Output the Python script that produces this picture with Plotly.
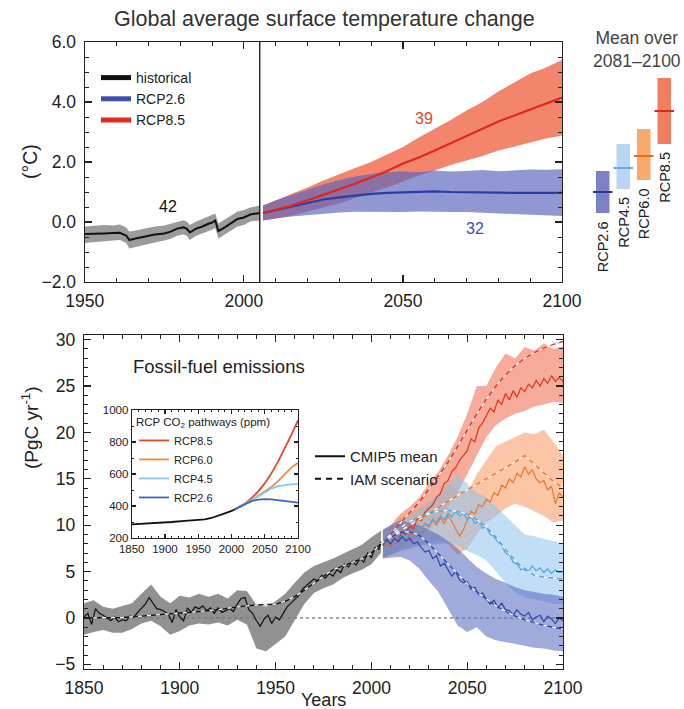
import plotly.graph_objects as go

FONT = "Liberation Sans, Arial, sans-serif"

# ================= TOP PANEL DATA: temperature change (degC) =================
TRANSITION_YEAR = 2005
HIST_T_YEARS = [1950, 1953, 1956, 1959, 1961, 1963, 1964, 1966, 1969, 1972, 1975, 1977, 1979, 1981,
                1982, 1983, 1985, 1987, 1989, 1990, 1991, 1992, 1994, 1996, 1998, 2000, 2002, 2005]
HIST_T_MEAN = [-0.40, -0.40, -0.38, -0.37, -0.36, -0.45, -0.60, -0.55, -0.48, -0.42, -0.38, -0.32, -0.22, -0.18,
               -0.22, -0.35, -0.22, -0.15, -0.05, -0.02, 0.05, -0.30, -0.18, -0.05, 0.10, 0.15, 0.25, 0.30]
HIST_T_HI = [-0.15, -0.12, -0.10, -0.12, -0.08, -0.18, -0.32, -0.28, -0.22, -0.15, -0.12, -0.06, 0.02, 0.06,
             0.02, -0.10, 0.02, 0.10, 0.18, 0.22, 0.28, -0.05, 0.08, 0.20, 0.35, 0.40, 0.48, 0.55]
HIST_T_LO = [-0.70, -0.68, -0.65, -0.62, -0.60, -0.70, -0.88, -0.82, -0.75, -0.68, -0.62, -0.56, -0.46, -0.42,
             -0.46, -0.60, -0.46, -0.40, -0.30, -0.26, -0.20, -0.55, -0.42, -0.30, -0.15, -0.10, 0.02, 0.05]

FUT_T_YEARS = [2006, 2010, 2015, 2020, 2025, 2030, 2035, 2040, 2045, 2050,
               2055, 2060, 2065, 2070, 2075, 2080, 2085, 2090, 2095, 2100]
RCP85_T_MEAN = [0.30, 0.40, 0.55, 0.72, 0.90, 1.10, 1.28, 1.48, 1.70, 1.95,
                2.15, 2.38, 2.62, 2.85, 3.10, 3.35, 3.55, 3.75, 3.95, 4.15]
RCP85_T_HI = [0.55, 0.72, 0.92, 1.15, 1.38, 1.60, 1.80, 2.00, 2.25, 2.50,
              2.82, 3.10, 3.40, 3.72, 4.00, 4.35, 4.65, 4.95, 5.15, 5.40]
RCP85_T_LO = [0.05, 0.12, 0.22, 0.35, 0.48, 0.62, 0.80, 0.98, 1.15, 1.35,
              1.55, 1.72, 1.90, 2.05, 2.20, 2.38, 2.52, 2.65, 2.78, 2.88]
RCP26_T_MEAN = [0.30, 0.40, 0.52, 0.65, 0.75, 0.82, 0.88, 0.94, 0.97, 0.98,
                1.00, 1.02, 1.00, 1.00, 0.98, 0.98, 0.97, 0.98, 0.97, 0.97]
RCP26_T_HI = [0.55, 0.72, 0.90, 1.08, 1.25, 1.40, 1.52, 1.60, 1.66, 1.68,
              1.66, 1.72, 1.68, 1.70, 1.73, 1.69, 1.72, 1.75, 1.74, 1.76]
RCP26_T_LO = [0.05, 0.12, 0.18, 0.24, 0.28, 0.32, 0.34, 0.35, 0.34, 0.33,
              0.35, 0.35, 0.33, 0.33, 0.31, 0.30, 0.27, 0.25, 0.22, 0.20]

MODEL_COUNTS = {"historical": "42", "RCP8.5": "39", "RCP2.6": "32"}

# Mean over 2081-2100
BAR_SCEN = ["RCP2.6", "RCP4.5", "RCP6.0", "RCP8.5"]
BAR_LO = [0.3, 1.1, 1.4, 2.6]
BAR_HI = [1.7, 2.6, 3.1, 4.8]
BAR_MEAN = [1.0, 1.8, 2.2, 3.7]

# ================= BOTTOM PANEL DATA: fossil-fuel emissions (PgC/yr) =================
EM_HIST_YEARS = list(range(1850, 2005, 2)) + [2005]
EM_HIST_MEAN = [0.1, 0.5, -0.7, 1.0, 0.5, 0.3, 0.0, -0.3, 0.1, -0.4,
                -0.2, -0.3, 0.2, 0.1, 0.6, 1.1, 1.5, 2.2, 1.6, 1.0,
                0.9, 0.7, 0.4, -0.5, 0.9, 0.1, -0.3, 1.1, 0.6, 1.2,
                1.0, 1.3, 0.8, 1.1, 0.5, 1.1, 0.6, 0.8, 1.0, 0.7,
                1.5, 2.1, 2.2, 0.9, 0.5, -0.3, -0.9, -0.1, 0.3, -0.6,
                0.1, -0.2, 0.5, 1.2, 1.6, 2.0, 2.4, 3.1, 3.5, 3.8,
                4.2, 4.0, 4.6, 4.3, 4.8, 4.5, 5.2, 4.9, 5.8, 5.5,
                6.1, 5.7, 6.4, 6.0, 7.0, 6.5, 7.6, 7.4,
                8.2]
EM_HIST_BAND_YEARS = list(range(1850, 2006, 5))
EM_HIST_HI = [1.6, 1.9, 1.2, 1.0, 1.3, 1.6, 2.6, 3.6, 2.3, 1.6,
              2.4, 2.2, 2.6, 2.3, 2.6, 2.1, 3.0, 2.9, 1.4, 1.2,
              1.8, 2.6, 3.8, 4.9, 5.6, 6.0, 6.4, 6.9, 7.4, 7.9,
              8.7, 9.4]
EM_HIST_LO = [-1.8, -1.5, -1.3, -1.6, -1.6, -1.2, -0.6, -0.3, -0.9, -1.8,
              -1.4, -0.8, -0.6, -0.7, -0.5, -0.8, -0.2, -0.7, -3.3, -3.6,
              -2.8, -2.0, -0.3, 1.5, 2.7, 3.2, 3.6, 4.3, 4.8, 5.2,
              5.8, 7.0]
IAM_HIST_YEARS = [1850, 1860, 1870, 1880, 1890, 1900, 1910, 1920, 1930, 1940, 1950,
                  1955, 1960, 1965, 1970, 1975, 1980, 1985, 1990, 1995, 2000, 2005]
IAM_HIST = [0.0, 0.0, 0.05, 0.2, 0.35, 0.5, 0.7, 0.9, 1.2, 1.4, 1.5,
            1.8, 2.3, 3.0, 3.8, 4.5, 5.2, 5.6, 6.0, 6.4, 7.0, 8.0]

EM_FUT_YEARS = list(range(2006, 2101, 2))
RCP85_EM = [7.8, 8.3, 7.7, 8.6, 8.4, 9.3, 9.0, 10.0, 9.6, 10.8,
            10.5, 11.4, 11.8, 12.2, 13.0, 13.4, 14.5, 14.8, 15.8, 16.2,
            17.0, 17.5, 18.0, 19.3, 19.0, 20.5, 21.0, 21.8, 22.6, 22.2,
            23.5, 23.0, 24.2, 23.5, 24.5, 23.8, 24.8, 24.4, 25.2, 24.8,
            25.6, 25.0, 25.8, 25.3, 26.1, 25.5, 25.9, 25.5]
RCP60_EM = [7.9, 8.3, 7.8, 8.5, 8.2, 8.9, 8.6, 9.3, 8.9, 9.7,
            9.4, 10.2, 9.8, 10.6, 10.0, 10.8, 10.2, 11.0, 10.4, 9.6,
            8.8, 9.5, 10.5, 11.5, 11.2, 12.2, 12.0, 12.8, 12.5, 13.5,
            13.2, 14.3, 14.0, 15.0, 14.6, 15.6, 15.2, 16.3, 15.5, 16.0,
            15.0, 14.6, 14.8, 13.8, 14.2, 12.3, 13.5, 13.0]
RCP45_EM = [8.0, 8.4, 8.0, 8.7, 8.3, 9.0, 8.7, 9.4, 9.1, 9.8,
            9.5, 10.2, 9.9, 10.6, 10.3, 11.0, 10.6, 11.3, 10.9, 11.5,
            11.0, 11.3, 10.6, 10.9, 10.2, 10.4, 9.7, 9.8, 9.0, 8.8,
            8.2, 7.9, 7.0, 6.8, 6.0, 5.8, 5.2, 5.4, 5.0, 5.6,
            5.1, 5.4, 4.9, 5.3, 4.8, 5.2, 4.9, 5.0]
RCP26_EM = [7.9, 8.4, 8.0, 8.6, 8.2, 8.8, 8.3, 8.6, 8.0, 8.2,
            7.6, 7.1, 7.3, 6.4, 6.7, 5.6, 5.9, 5.2, 4.5, 5.0,
            4.1, 3.8, 3.9, 3.1, 3.3, 2.5, 2.7, 2.0, 1.5, 1.9,
            1.1, 1.6, 0.9, 0.8, 0.3, 0.9, 0.4, 0.2, 0.6, -0.2,
            0.1, 0.3, -0.4, 0.2, -0.1, -0.6, 0.0, -0.3]

EM_BAND_YEARS = [2006, 2010, 2015, 2020, 2025, 2030, 2035, 2040, 2045, 2050,
                 2055, 2060, 2065, 2070, 2075, 2080, 2085, 2090, 2095, 2100]
RCP85_HI = [9.5, 10.0, 11.2, 12.0, 13.0, 14.5, 15.8, 17.5, 19.5, 22.0,
            25.0, 25.0, 27.0, 28.5, 28.0, 29.2, 28.8, 29.6, 29.0, 29.3]
RCP85_LO = [6.5, 6.8, 7.5, 8.2, 8.8, 9.5, 10.5, 12.0, 13.5, 15.5,
            17.5, 19.5, 20.8, 21.5, 22.0, 22.3, 22.8, 23.0, 23.3, 23.2]
RCP60_HI = [9.3, 9.8, 10.8, 11.3, 11.8, 12.5, 13.3, 14.5, 13.8, 13.5,
            15.5, 17.0, 18.5, 19.0, 19.5, 20.0, 19.8, 20.3, 19.0, 17.5]
RCP60_LO = [6.5, 6.8, 7.3, 7.5, 7.8, 8.0, 8.3, 8.0, 6.8, 7.5,
            9.0, 10.3, 11.0, 11.8, 12.3, 12.0, 11.5, 11.0, 10.3, 10.5]
RCP45_HI = [9.3, 9.8, 10.5, 11.0, 11.8, 12.5, 13.3, 14.5, 15.5, 14.5,
            13.5, 13.0, 12.0, 11.0, 10.0, 9.0, 8.8, 8.5, 8.3, 8.0]
RCP45_LO = [6.6, 6.8, 7.2, 7.5, 7.8, 7.8, 8.0, 8.0, 7.8, 7.2,
            6.8, 6.2, 5.0, 3.8, 2.8, 2.2, 2.0, 1.8, 1.5, 1.5]
RCP26_HI = [9.5, 10.0, 10.5, 10.3, 10.0, 9.5, 9.0, 8.3, 7.5, 6.5,
            5.5, 4.8, 4.2, 3.8, 3.3, 3.0, 2.8, 2.6, 2.5, 2.3]
RCP26_LO = [6.4, 6.5, 6.6, 6.2, 5.3, 4.0, 2.8, 1.0, -0.8, -1.5,
            -1.0, -2.0, -2.4, -2.6, -2.8, -3.0, -3.2, -3.3, -3.5, -3.6]

IAM_FUT_YEARS = [2005, 2010, 2015, 2020, 2025, 2030, 2035, 2040, 2045, 2050,
                 2055, 2060, 2065, 2070, 2075, 2080, 2085, 2090, 2095, 2100]
RCP85_IAM = [8.0, 9.0, 10.2, 11.3, 12.5, 13.9, 15.3, 16.8, 18.5, 20.3,
             22.0, 23.6, 25.0, 26.2, 27.2, 28.0, 28.6, 29.1, 29.5, 29.8]
RCP60_IAM = [8.0, 8.7, 9.4, 10.0, 10.6, 11.2, 11.9, 12.6, 13.2, 13.8,
             14.4, 15.0, 15.6, 16.2, 16.8, 17.5, 16.6, 15.6, 14.7, 14.0]
RCP45_IAM = [8.0, 8.9, 9.7, 10.4, 10.9, 11.3, 11.5, 11.6, 11.5, 11.2,
             10.6, 9.8, 8.7, 7.4, 6.2, 5.2, 4.6, 4.4, 4.3, 4.2]
RCP26_IAM = [8.0, 8.7, 9.2, 9.3, 8.9, 8.0, 6.9, 5.8, 4.7, 3.7,
             2.8, 2.0, 1.3, 0.7, 0.2, -0.2, -0.5, -0.8, -1.0, -1.2]

# ================= INSET DATA: CO2 pathways (ppm) =================
CO2_HIST_YEARS = [1850, 1870, 1890, 1910, 1930, 1950, 1960, 1970, 1980, 1990, 2000, 2005]
CO2_HIST = [285, 289, 294, 300, 307, 311, 317, 325, 338, 354, 369, 379]
CO2_FUT_YEARS = [2005, 2010, 2020, 2030, 2040, 2050, 2060, 2070, 2080, 2090, 2100]
RCP85_CO2 = [379, 390, 415, 449, 490, 541, 604, 677, 758, 845, 936]
RCP60_CO2 = [379, 389, 412, 435, 461, 487, 518, 555, 597, 640, 670]
RCP45_CO2 = [379, 389, 412, 435, 460, 487, 509, 524, 531, 535, 538]
RCP26_CO2 = [379, 389, 412, 430, 440, 443, 441, 437, 432, 426, 421]

# ================= STYLE =================
C = {
    "RCP2.6": "#2c48a8", "RCP4.5": "#55a6dc", "RCP6.0": "#e8782e", "RCP8.5": "#e2321e",
}
BAR_COLORS = ["#7d82c6", "#b6d6f1", "#f7aa6c", "#f07f60"]
BAR_LINE_COLORS = ["#2a3898", "#6aaade", "#e2701e", "#e0281a"]

W, H = 684, 709
TICK_SIZE = 17.5


def px_x(p):
    return p / W


def px_y(p):
    return 1 - p / H


fig = go.Figure()


def band(x, lo, hi, color, xa, ya):
    fig.add_trace(go.Scatter(
        x=list(x) + list(x)[::-1], y=list(hi) + list(lo)[::-1],
        fill="toself", fillcolor=color, mode="lines", line=dict(width=0),
        hoverinfo="skip", showlegend=False, xaxis=xa, yaxis=ya))


def line(x, y, color, width, xa, ya, dash=None):
    fig.add_trace(go.Scatter(
        x=x, y=y, mode="lines", line=dict(color=color, width=width, dash=dash),
        hoverinfo="skip", showlegend=False, xaxis=xa, yaxis=ya))


# ---------- top panel ----------
band(HIST_T_YEARS, HIST_T_LO, HIST_T_HI, "#9b9b9b", "x", "y")
band(FUT_T_YEARS, RCP85_T_LO, RCP85_T_HI, "rgba(241,112,82,0.85)", "x", "y")
band(FUT_T_YEARS, RCP26_T_LO, RCP26_T_HI, "rgba(92,102,188,0.68)", "x", "y")
line(FUT_T_YEARS, RCP26_T_MEAN, "#2a3ea2", 2.2, "x", "y")
line(FUT_T_YEARS, RCP85_T_MEAN, "#e3261c", 2.2, "x", "y")
line(HIST_T_YEARS, HIST_T_MEAN, "#111111", 2.0, "x", "y")

for name, col in [("historical", "#111111"), ("RCP2.6", "#3a4fb0"), ("RCP8.5", "#e52a1e")]:
    fig.add_trace(go.Scatter(x=[None], y=[None], mode="lines", name=name,
                             line=dict(color=col, width=5), legend="legend",
                             xaxis="x", yaxis="y"))

# ---------- mean bars ----------
fig.add_trace(go.Bar(
    x=BAR_SCEN, y=[h - l for h, l in zip(BAR_HI, BAR_LO)], base=BAR_LO,
    marker=dict(color=BAR_COLORS, line=dict(width=0)), width=0.66,
    hoverinfo="skip", showlegend=False, xaxis="x2", yaxis="y2"))
fig.add_trace(go.Scatter(
    x=BAR_SCEN, y=BAR_MEAN, mode="markers",
    marker=dict(symbol="line-ew", size=14, line=dict(width=2, color=BAR_LINE_COLORS)),
    hoverinfo="skip", showlegend=False, xaxis="x2", yaxis="y2"))

# ---------- bottom panel ----------
band(EM_HIST_BAND_YEARS, EM_HIST_LO, EM_HIST_HI, "rgba(118,118,118,0.8)", "x3", "y3")
band(EM_BAND_YEARS, RCP85_LO, RCP85_HI, "rgba(240,104,72,0.55)", "x3", "y3")
band(EM_BAND_YEARS, RCP60_LO, RCP60_HI, "rgba(247,150,92,0.55)", "x3", "y3")
band(EM_BAND_YEARS, RCP45_LO, RCP45_HI, "rgba(140,195,236,0.55)", "x3", "y3")
band(EM_BAND_YEARS, RCP26_LO, RCP26_HI, "rgba(82,100,190,0.55)", "x3", "y3")

line(EM_HIST_YEARS, EM_HIST_MEAN, "#111111", 1.2, "x3", "y3")
for yv, key in [(RCP85_EM, "RCP8.5"), (RCP60_EM, "RCP6.0"), (RCP45_EM, "RCP4.5"), (RCP26_EM, "RCP2.6")]:
    line(EM_FUT_YEARS, yv, C[key], 1.2, "x3", "y3")

for xv, yv, col in [(IAM_HIST_YEARS, IAM_HIST, "#111111"),
                    (IAM_FUT_YEARS, RCP85_IAM, C["RCP8.5"]),
                    (IAM_FUT_YEARS, RCP60_IAM, C["RCP6.0"]),
                    (IAM_FUT_YEARS, RCP45_IAM, C["RCP4.5"]),
                    (IAM_FUT_YEARS, RCP26_IAM, C["RCP2.6"])]:
    line(xv, yv, col, 1.3, "x3", "y3")
    line(xv, yv, "white", 1.3, "x3", "y3", dash="4px,5px")

fig.add_trace(go.Scatter(x=[None], y=[None], mode="lines", name="CMIP5 mean",
                         line=dict(color="#111111", width=2), legend="legend2",
                         xaxis="x3", yaxis="y3"))
fig.add_trace(go.Scatter(x=[None], y=[None], mode="lines", name="IAM scenario",
                         line=dict(color="#111111", width=2, dash="6px,5px"), legend="legend2",
                         xaxis="x3", yaxis="y3"))

# ---------- inset ----------
line(CO2_HIST_YEARS, CO2_HIST, "#111111", 1.8, "x4", "y4")
for yv, key, col in [(RCP85_CO2, "RCP8.5", "#e2472c"), (RCP60_CO2, "RCP6.0", "#f08a3e"),
                     (RCP45_CO2, "RCP4.5", "#8ac6ee"), (RCP26_CO2, "RCP2.6", "#3c66c4")]:
    fig.add_trace(go.Scatter(x=CO2_FUT_YEARS, y=yv, mode="lines", name=key,
                             line=dict(color=col, width=1.8), legend="legend3",
                             hoverinfo="skip", xaxis="x4", yaxis="y4"))

# ---------- axes ----------
def axis(**kw):
    a = dict(showline=True, linecolor="#222", linewidth=1.3, mirror="ticks",
             ticks="inside", ticklen=7, tickwidth=1.2, tickcolor="#222",
             showgrid=False, zeroline=False, automargin=False,
             tickfont=dict(family=FONT, size=TICK_SIZE, color="#222"))
    a.update(kw)
    return a


TOP_X = [px_x(84.8), px_x(562)]
TOP_Y = [px_y(282), px_y(42)]
BOT_X = [px_x(84), px_x(563)]
BOT_Y = [px_y(669), px_y(335)]

fig.update_layout(
    xaxis=axis(domain=TOP_X, range=[1950, 2100], tickvals=[1950, 2000, 2050, 2100],
               ticklabelstandoff=3,
               minor=dict(ticks="inside", ticklen=4, tickcolor="#222", tickwidth=1, dtick=10, tick0=1950)),
    yaxis=axis(domain=TOP_Y, range=[-2, 6], tickvals=[-2, 0, 2, 4, 6], tickformat=".1f",
               ticklabelstandoff=4,
               minor=dict(ticks="inside", ticklen=4, tickcolor="#222", tickwidth=1, dtick=0.5, tick0=0)),
    xaxis2=dict(domain=[px_x(592.5), px_x(674.5)], type="category", range=[-0.5, 3.5],
                visible=False, anchor="y2", automargin=False),
    yaxis2=dict(domain=TOP_Y, range=[-2, 6], visible=False, anchor="x2", automargin=False),
    xaxis3=axis(domain=BOT_X, range=[1850, 2100], tickvals=[1850, 1900, 1950, 2000, 2050, 2100],
                anchor="y3", ticklabelstandoff=3,
                minor=dict(ticks="inside", ticklen=4, tickcolor="#222", tickwidth=1, dtick=10, tick0=1850)),
    yaxis3=axis(domain=BOT_Y, range=[-5.5, 30.5], tickvals=[-5, 0, 5, 10, 15, 20, 25, 30],
                anchor="x3", ticklabelstandoff=4,
                minor=dict(ticks="inside", ticklen=4, tickcolor="#222", tickwidth=1, dtick=1, tick0=0)),
    xaxis4=axis(domain=[px_x(131.7), px_x(298)], range=[1850, 2100],
                tickvals=[1850, 1900, 1950, 2000, 2050, 2100], anchor="y4", ticklen=4,
                linewidth=1, tickfont=dict(family=FONT, size=11.5, color="#222"),
                minor=dict(ticks="inside", ticklen=2, tickcolor="#222", tickwidth=1, dtick=10, tick0=1850)),
    yaxis4=axis(domain=[px_y(538), px_y(410)], range=[200, 1000],
                tickvals=[200, 400, 600, 800, 1000], anchor="x4", ticklen=4, linewidth=1,
                tickfont=dict(family=FONT, size=11.5, color="#222"),
                minor=dict(ticks="inside", ticklen=2, tickcolor="#222", tickwidth=1, dtick=100, tick0=0)),
)

# ---------- legends ----------
fig.update_layout(
    legend=dict(x=px_x(96), y=px_y(62), xanchor="left", yanchor="top",
                font=dict(family=FONT, size=14, color="#222"), bgcolor="rgba(0,0,0,0)",
                itemwidth=30, tracegroupgap=0),
    legend2=dict(x=px_x(310), y=px_y(440), xanchor="left", yanchor="top",
                 font=dict(family=FONT, size=15, color="#222"), bgcolor="rgba(0,0,0,0)",
                 itemwidth=30),
    legend3=dict(x=px_x(134), y=px_y(411), xanchor="left", yanchor="top",
                 title=dict(text="RCP CO<sub>2</sub> pathways (ppm)",
                            font=dict(family=FONT, size=11.5, color="#222")),
                 font=dict(family=FONT, size=11, color="#222"), bgcolor="rgba(0,0,0,0)",
                 itemwidth=30),
)

# ---------- shapes (reference lines) ----------
fig.add_shape(type="line", xref="x", yref="y domain", x0=TRANSITION_YEAR, x1=TRANSITION_YEAR,
              y0=0, y1=1, line=dict(color="#111", width=1.3), layer="above")
fig.add_shape(type="line", xref="x3 domain", yref="y3", x0=0, x1=1, y0=0, y1=0,
              line=dict(color="#555", width=1, dash="dot"), layer="below")

# ---------- annotations ----------
ann = []


def paper_text(text, x, y, size, color="#222", angle=0, xanchor="center"):
    ann.append(dict(text=text, x=px_x(x), y=px_y(y), xref="paper", yref="paper",
                    xanchor=xanchor, yanchor="middle", showarrow=False, textangle=angle,
                    font=dict(family=FONT, size=size, color=color)))


paper_text("Global average surface temperature change", 324, 19, 21.5, "#333")
paper_text("(°C)", 30, 162, 19.5, angle=-90)
paper_text("Mean over<br>2081–2100", 637, 49, 17.5, "#444")
paper_text("Fossil-fuel emissions", 131, 366, 18.5, xanchor="left")
paper_text("(PgC yr<sup>-1</sup>)", 30, 428, 19, angle=-90)
paper_text("Years", 323.5, 700, 18)

for txt, xv, yv, col in [(MODEL_COUNTS["historical"], 1976, 0.53, "#111"),
                         (MODEL_COUNTS["RCP8.5"], 2056.5, 3.45, "#e8451f"),
                         (MODEL_COUNTS["RCP2.6"], 2072.5, -0.2, "#3a4fb0")]:
    ann.append(dict(text=txt, x=xv, y=yv, xref="x", yref="y", xanchor="center", yanchor="middle",
                    showarrow=False, font=dict(family=FONT, size=16, color=col)))

for scen, lo in zip(BAR_SCEN, BAR_LO):
    ann.append(dict(text=scen, x=scen, y=lo, xref="x2", yref="y2", xanchor="center", yanchor="top",
                    yshift=-6, textangle=-90, showarrow=False,
                    font=dict(family=FONT, size=14.5, color="#222")))

fig.update_layout(
    annotations=ann,
    width=W, height=H, margin=dict(l=0, r=0, t=0, b=0, pad=0, autoexpand=False),
    paper_bgcolor="white", plot_bgcolor="white",
    font=dict(family=FONT, color="#222"),
    hovermode=False, bargap=0.3,
)

fig.write_html("out.html", config={"displayModeBar": False, "staticPlot": True},
               post_script="document.body.style.margin='0';document.body.style.overflow='hidden';")
